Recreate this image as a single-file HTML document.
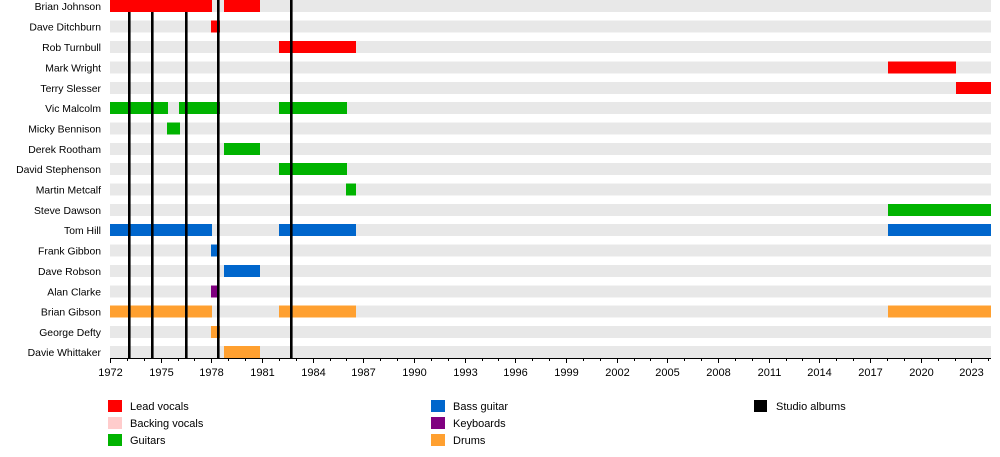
<!DOCTYPE html>
<html><head><meta charset="utf-8"><style>
html,body{margin:0;padding:0;background:#fff}
svg{display:block}
text{font-family:"Liberation Sans",sans-serif;font-size:11px;fill:#000}
.n text{font-size:10.4px}
</style></head><body>
<svg width="1000" height="457" viewBox="0 0 1000 457">
<g fill="#e8e8e8">
<rect x="110" y="0" width="881" height="12"/>
<rect x="110" y="20.5" width="881" height="12"/>
<rect x="110" y="41" width="881" height="12"/>
<rect x="110" y="61.5" width="881" height="12"/>
<rect x="110" y="82" width="881" height="12"/>
<rect x="110" y="102" width="881" height="12"/>
<rect x="110" y="122.5" width="881" height="12"/>
<rect x="110" y="143" width="881" height="12"/>
<rect x="110" y="163" width="881" height="12"/>
<rect x="110" y="183.5" width="881" height="12"/>
<rect x="110" y="204" width="881" height="12"/>
<rect x="110" y="224" width="881" height="12"/>
<rect x="110" y="244.5" width="881" height="12"/>
<rect x="110" y="265" width="881" height="12"/>
<rect x="110" y="285.5" width="881" height="12"/>
<rect x="110" y="305.5" width="881" height="12"/>
<rect x="110" y="326" width="881" height="12"/>
<rect x="110" y="346" width="881" height="12"/>
</g>
<g text-anchor="end" class="n">
<text x="101" y="10">Brian Johnson</text>
<text x="101" y="30.5">Dave Ditchburn</text>
<text x="101" y="51">Rob Turnbull</text>
<text x="101" y="71.5">Mark Wright</text>
<text x="101" y="92">Terry Slesser</text>
<text x="101" y="112">Vic Malcolm</text>
<text x="101" y="132.5">Micky Bennison</text>
<text x="101" y="153">Derek Rootham</text>
<text x="101" y="173">David Stephenson</text>
<text x="101" y="193.5">Martin Metcalf</text>
<text x="101" y="214">Steve Dawson</text>
<text x="101" y="234">Tom Hill</text>
<text x="101" y="254.5">Frank Gibbon</text>
<text x="101" y="275">Dave Robson</text>
<text x="101" y="295.5">Alan Clarke</text>
<text x="101" y="315.5">Brian Gibson</text>
<text x="101" y="336">George Defty</text>
<text x="101" y="356">Davie Whittaker</text>
</g>
<g fill="#ff0000">
<rect x="110" y="0" width="102" height="12"/>
<rect x="224" y="0" width="36" height="12"/>
<rect x="211" y="20.5" width="9" height="12"/>
<rect x="279" y="41" width="77" height="12"/>
<rect x="888" y="61.5" width="68" height="12"/>
<rect x="956" y="82" width="35" height="12"/>
</g>
<g fill="#00b300">
<rect x="110" y="102" width="58" height="12"/>
<rect x="179" y="102" width="41" height="12"/>
<rect x="279" y="102" width="68" height="12"/>
<rect x="167" y="122.5" width="13" height="12"/>
<rect x="224" y="143" width="36" height="12"/>
<rect x="279" y="163" width="68" height="12"/>
<rect x="346" y="183.5" width="10" height="12"/>
<rect x="888" y="204" width="103" height="12"/>
</g>
<g fill="#0066cc">
<rect x="110" y="224" width="102" height="12"/>
<rect x="279" y="224" width="77" height="12"/>
<rect x="888" y="224" width="103" height="12"/>
<rect x="211" y="244.5" width="8" height="12"/>
<rect x="224" y="265" width="36" height="12"/>
</g>
<rect x="211" y="285.5" width="8" height="12" fill="#800080"/>
<g fill="#ffa030">
<rect x="110" y="305.5" width="102" height="12"/>
<rect x="279" y="305.5" width="77" height="12"/>
<rect x="888" y="305.5" width="103" height="12"/>
<rect x="211" y="326" width="9" height="12"/>
<rect x="224" y="346" width="36" height="12"/>
</g>
<g fill="#000">
<rect x="128" y="12" width="2.6" height="346"/>
<rect x="151" y="12" width="2.6" height="346"/>
<rect x="185" y="12" width="2.6" height="346"/>
<rect x="217" y="0" width="2.6" height="358"/>
<rect x="290" y="0" width="2.6" height="358"/>
</g>
<g stroke="#000" stroke-width="1">
<line x1="110.5" y1="358.5" x2="991" y2="358.5"/>
<line x1="110.5" y1="358" x2="110.5" y2="362"/>
</g>
<g id="ticks" stroke="#000" stroke-width="1"></g>
<g id="labels" text-anchor="middle"></g>
<rect x="108" y="400" width="14" height="12" fill="#ff0000"/>
<rect x="108" y="417" width="14" height="12" fill="#ffcccc"/>
<rect x="108" y="434" width="14" height="12" fill="#00b300"/>
<text x="130" y="410">Lead vocals</text>
<text x="130" y="427">Backing vocals</text>
<text x="130" y="444">Guitars</text>
<rect x="431" y="400" width="14" height="12" fill="#0066cc"/>
<rect x="431" y="417" width="14" height="12" fill="#800080"/>
<rect x="431" y="434" width="14" height="12" fill="#ffa030"/>
<text x="453" y="410">Bass guitar</text>
<text x="453" y="427">Keyboards</text>
<text x="453" y="444">Drums</text>
<rect x="754" y="400" width="13" height="12" fill="#000"/>
<text x="776" y="410">Studio albums</text>
</svg>
<script>
(function(){
var ns="http://www.w3.org/2000/svg",t=document.getElementById("ticks"),l=document.getElementById("labels");
for(var y=1972;y<=2024;y++){
 var x=Math.round(110+(y-1972)*16.89)+0.5,maj=(y-1972)%3==0;
 var ln=document.createElementNS(ns,"line");
 ln.setAttribute("x1",x);ln.setAttribute("x2",x);ln.setAttribute("y1",358);ln.setAttribute("y2",maj?363:361);
 t.appendChild(ln);
 if(maj){var tx=document.createElementNS(ns,"text");tx.setAttribute("x",x);tx.setAttribute("y",376);tx.textContent=y;l.appendChild(tx);}
}
})();
</script>
</body></html>
